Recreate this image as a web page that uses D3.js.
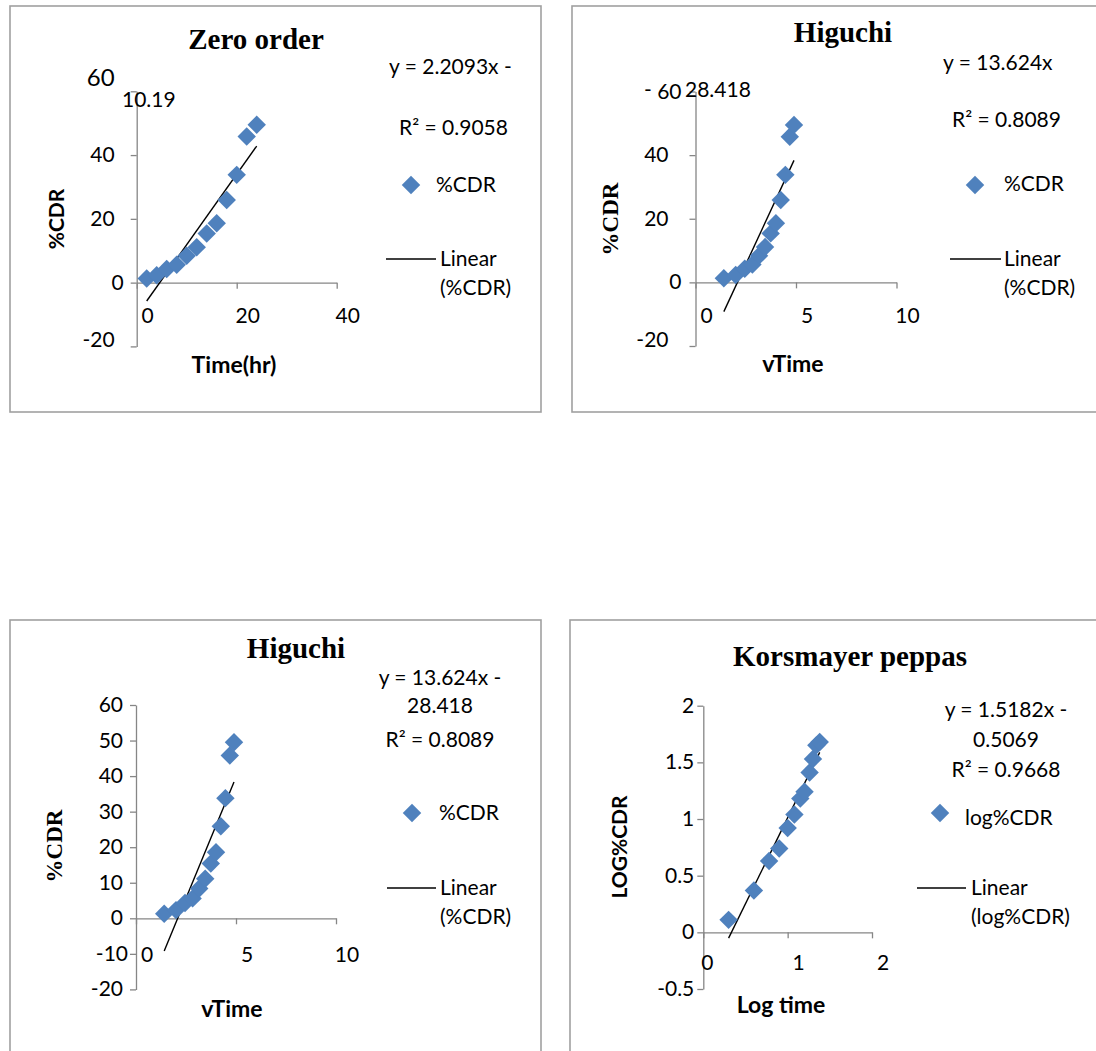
<!DOCTYPE html>
<html>
<head>
<meta charset="utf-8">
<script src="https://cdn.jsdelivr.net/npm/d3@7"></script>
<style>
  body { margin: 0; background: #fff; }
  svg text { font-family: Lato, "Open Sans", sans-serif; fill: #000; }
</style>
</head>
<body>
<div id="chart"></div>
<script>
// values (time points 2..24 h)
var timeHr = [2, 4, 6, 8, 10, 12, 14, 16, 18, 20, 22, 24];
var cdrZero = [1.3, 2.3, 4.3, 5.6, 8.4, 11.1, 15.4, 18.6, 25.9, 33.8, 45.8, 49.5];
var sqrtTime = [1.41, 2.00, 2.45, 2.83, 3.16, 3.46, 3.74, 4.00, 4.24, 4.47, 4.69, 4.90];
var cdrHiguchi = [1.3, 2.3, 4.3, 5.6, 8.4, 11.1, 15.4, 18.6, 25.9, 33.8, 45.8, 49.5];
var logTime = [0.30, 0.60, 0.78, 0.90, 1.00, 1.08, 1.15, 1.20, 1.26, 1.30, 1.34, 1.38];
var logCdr = [0.11, 0.37, 0.63, 0.74, 0.92, 1.04, 1.18, 1.24, 1.41, 1.53, 1.65, 1.68];

// trendline slope / intercept as printed on the charts
var zeroFit = [2.2093, -10.19];
var higuchiFit = [13.624, -28.418];
var kpFit = [1.5182, -0.5069];

var zeroXTicks = [0, 20, 40];
var zeroYTicks = [-20, 0, 20, 40, 60];
var higXTicks = [0, 5, 10];
var higYTicksTop = [-20, 0, 20, 40, 60];
var higYTicksBottom = [-20, -10, 0, 10, 20, 30, 40, 50, 60];
var kpXTicks = [0, 1, 2];
var kpYTicks = [-0.5, 0, 0.5, 1, 1.5, 2];

var width = 1096, height = 1051;
var blue = '#4f81bd', axisCol = '#868686';
var fs = 21;

var svg = d3.select('#chart').append('svg')
    .attr('width', width)
    .attr('height', height);

function addText(g, str, x, y, o) {
    o = o || {};
    var t = g.append('text')
        .attr('x', x).attr('y', y)
        .attr('text-anchor', o.anchor || 'start')
        .style('font-size', (o.size || fs) + 'px')
        .text(str);
    if (o.bold) t.style('font-weight', 'bold');
    if (o.serif) t.style('font-family', '"Liberation Serif", "Times New Roman", serif');
    if (o.rotate) t.attr('transform', 'rotate(-90,' + x + ',' + y + ')');
    return t;
}

var marker = d3.symbol().type(d3.symbolSquare).size(170);

function diamond(g, x, y) {
    g.append('path')
        .attr('d', marker())
        .attr('transform', 'translate(' + x + ',' + y + ') rotate(45)')
        .attr('fill', blue);
}

function drawPanel(p) {
    var g = svg.append('g');

    g.append('rect')
        .attr('x', p.frame[0]).attr('y', p.frame[1])
        .attr('width', p.frame[2] - p.frame[0]).attr('height', p.frame[3] - p.frame[1])
        .attr('fill', 'none').attr('stroke', '#a0a0a0').attr('stroke-width', 1.6);

    var x = d3.scaleLinear().domain(p.xDomain).range(p.xRange);
    var y = d3.scaleLinear().domain(p.yDomain).range(p.yRange);

    var xAxis = g.append('g')
        .attr('transform', 'translate(0,' + y(0) + ')')
        .call(d3.axisBottom(x).tickValues(p.xTicks).tickSize(6).tickSizeOuter(0).tickFormat(''));
    var yAxis = g.append('g')
        .attr('transform', 'translate(' + x(0) + ',0)')
        .call(d3.axisLeft(y).tickValues(p.yTicks).tickSize(6).tickSizeOuter(0).tickFormat(''));
    [xAxis, yAxis].forEach(function (a) {
        a.selectAll('path, line').attr('stroke', axisCol).attr('stroke-width', 1.3);
    });

    // tick labels (placed like the original, a bit off the ticks)
    g.selectAll('.xl')
        .data(p.xTicks)
        .enter()
        .append('text')
        .attr('x', function (d) { return x(d) + (p.xLabelShift[d] !== undefined ? p.xLabelShift[d] : 11); })
        .attr('y', p.xLabelY)
        .attr('text-anchor', 'middle')
        .style('font-size', fs + 'px')
        .text(function (d) { return d; });

    g.selectAll('.yl')
        .data(p.yTicks)
        .enter()
        .append('text')
        .attr('x', function (d) { var a = p.yLabelAdj[d] || {}; return x(0) - p.yLabelGap + (a.dx || 0); })
        .attr('y', function (d) { var a = p.yLabelAdj[d] || {}; return y(d) + 7 + (a.dy || 0); })
        .attr('text-anchor', 'end')
        .style('font-size', function (d) { var a = p.yLabelAdj[d] || {}; return (a.size || fs) + 'px'; })
        .text(function (d) { return d; });

    // linear trendline over the data range
    var ext = d3.extent(p.xs);
    g.append('line')
        .attr('x1', x(ext[0])).attr('y1', y(p.fit[0] * ext[0] + p.fit[1]))
        .attr('x2', x(ext[1])).attr('y2', y(p.fit[0] * ext[1] + p.fit[1]))
        .attr('stroke', '#000').attr('stroke-width', 1.4);

    g.selectAll('.pt')
        .data(p.xs)
        .enter()
        .append('path')
        .attr('d', marker())
        .attr('transform', function (d, i) { return 'translate(' + x(d) + ',' + y(p.ys[i]) + ') rotate(45)'; })
        .attr('fill', blue);

    // titles
    addText(g, p.title[0], p.title[1], p.title[2], { anchor: 'middle', size: 29, bold: true, serif: true });
    addText(g, p.xTitle[0], p.xTitle[1], p.xTitle[2], { anchor: 'middle', size: 23, bold: true });
    addText(g, p.yTitle[0], p.yTitle[1], p.yTitle[2], { anchor: 'middle', size: p.yTitleSerif ? 23 : 21, bold: true, serif: p.yTitleSerif, rotate: true });

    // equation label
    p.eq.forEach(function (e) {
        addText(g, e[0], e[1], e[2], { anchor: e[3] || 'start' });
    });

    // legend
    var L = p.legend;
    diamond(g, L.dia[0], L.dia[1]);
    addText(g, L.name, L.nameX, L.nameY);
    g.append('line')
        .attr('x1', L.line[0]).attr('x2', L.line[1])
        .attr('y1', L.line[2]).attr('y2', L.line[2])
        .attr('stroke', '#000').attr('stroke-width', 1.4);
    addText(g, 'Linear', L.linX, L.linY);
    addText(g, '(' + L.name + ')', L.linX, L.linY + 29);
}

var panels = [
    {
        frame: [10, 6, 541, 412],
        xDomain: [0, 40], xRange: [136.7, 336.7],
        yDomain: [-20, 60], yRange: [346.4, 91.3],
        xTicks: zeroXTicks, yTicks: zeroYTicks,
        xLabelY: 323, xLabelShift: {},
        yLabelGap: 22, yLabelAdj: { 0: { dx: 9 }, 60: { dy: -12, size: 24 }, '-20': { dy: -6 } },
        xs: timeHr, ys: cdrZero, fit: zeroFit,
        title: ['Zero order', 256, 49],
        xTitle: ['Time(hr)', 234, 373],
        yTitle: ['%CDR', 64, 219], yTitleSerif: false,
        eq: [['y = 2.2093x -', 389, 74], ['10.19', 122, 107], ['R\u00b2 = 0.9058', 399, 135]],
        legend: { name: '%CDR', dia: [411, 185], nameX: 436, nameY: 192, line: [386, 436, 259], linX: 440, linY: 266 }
    },
    {
        frame: [572, 6, 1110, 412],
        xDomain: [0, 10], xRange: [695.5, 896.5],
        yDomain: [-20, 60], yRange: [346, 91.5],
        xTicks: higXTicks, yTicks: higYTicksTop,
        xLabelY: 323, xLabelShift: {},
        yLabelGap: 27, yLabelAdj: { 0: { dx: 13 }, 60: { dx: 13 }, '-20': { dy: -6 } },
        xs: sqrtTime, ys: cdrHiguchi, fit: higuchiFit,
        title: ['Higuchi', 843, 42],
        xTitle: ['vTime', 793, 372],
        yTitle: ['%CDR', 618, 219], yTitleSerif: true,
        eq: [['y = 13.624x', 943, 70], ['-', 644, 97], ['28.418', 685, 97], ['R\u00b2 = 0.8089', 952, 127]],
        legend: { name: '%CDR', dia: [975, 185], nameX: 1004, nameY: 191, line: [950, 1001, 259], linX: 1004, linY: 266 }
    },
    {
        frame: [10, 620, 541, 1070],
        xDomain: [0, 10], xRange: [136, 336],
        yDomain: [-20, 60], yRange: [989.4, 705],
        xTicks: higXTicks, yTicks: higYTicksBottom,
        xLabelY: 962, xLabelShift: {},
        yLabelGap: 13, yLabelAdj: { '-10': { dx: 5 } },
        xs: sqrtTime, ys: cdrHiguchi, fit: higuchiFit,
        title: ['Higuchi', 296, 658],
        xTitle: ['vTime', 232, 1017],
        yTitle: ['%CDR', 62, 846], yTitleSerif: true,
        eq: [['y = 13.624x -', 440, 685, 'middle'], ['28.418', 440, 713, 'middle'], ['R\u00b2 = 0.8089', 440, 747, 'middle']],
        legend: { name: '%CDR', dia: [412, 813], nameX: 439, nameY: 820, line: [387, 436, 888], linX: 440, linY: 895 }
    },
    {
        frame: [570, 620, 1110, 1070],
        xDomain: [0, 2], xRange: [703.3, 872],
        yDomain: [-0.5, 2], yRange: [989, 705.7],
        xTicks: kpXTicks, yTicks: kpYTicks,
        xLabelY: 970, xLabelShift: { 0: 4 },
        yLabelGap: 9, yLabelAdj: {},
        xs: logTime, ys: logCdr, fit: kpFit,
        title: ['Korsmayer peppas', 850, 666],
        xTitle: ['Log time', 781, 1013],
        yTitle: ['LOG%CDR', 627, 847], yTitleSerif: false,
        eq: [['y = 1.5182x -', 1006, 717, 'middle'], ['0.5069', 1006, 747, 'middle'], ['R\u00b2 = 0.9668', 1006, 777, 'middle']],
        legend: { name: 'log%CDR', dia: [940, 813], nameX: 965, nameY: 825, line: [917, 966, 888], linX: 971, linY: 895 }
    }
];

panels.forEach(drawPanel);
</script>
</body>
</html>
